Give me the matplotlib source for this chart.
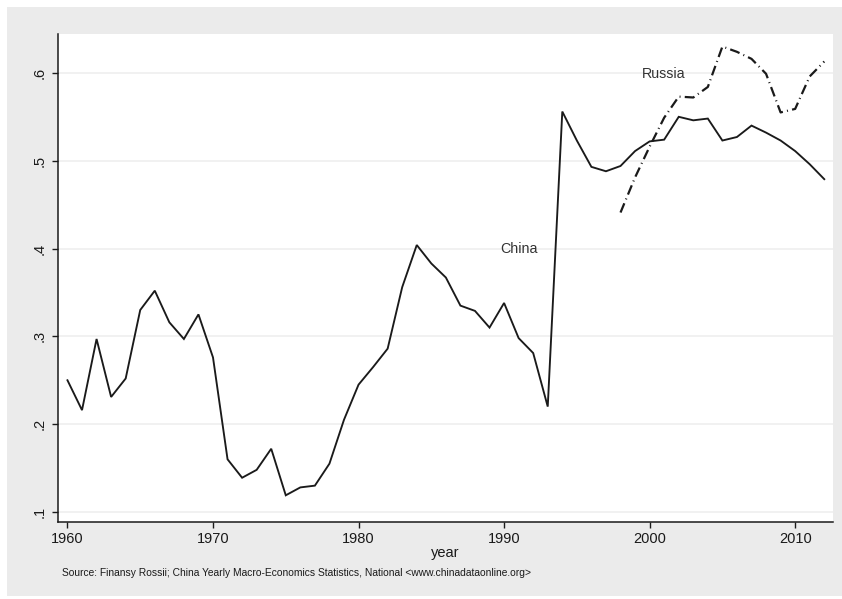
import matplotlib
matplotlib.use("Agg")
import matplotlib.pyplot as plt
from matplotlib.patches import Rectangle

plt.rcParams['font.family'] = ['Liberation Sans', 'DejaVu Sans']

# Series data
china_years = list(range(1960, 2013))
china_values = [
    0.250, 0.216, 0.297, 0.231, 0.252, 0.330, 0.352, 0.316, 0.297, 0.325,
    0.276, 0.160, 0.139, 0.148, 0.172, 0.119, 0.128, 0.130, 0.155, 0.205,
    0.245, 0.265, 0.286, 0.356, 0.404, 0.383, 0.367, 0.335, 0.329, 0.310,
    0.338, 0.298, 0.281, 0.220, 0.556, 0.523, 0.493, 0.488, 0.494, 0.511,
    0.522, 0.524, 0.550, 0.546, 0.548, 0.523, 0.527, 0.540, 0.532, 0.523,
    0.511, 0.496, 0.479,
]
russia_years = list(range(1998, 2013))
russia_values = [
    0.441, 0.481, 0.516, 0.549, 0.573, 0.572, 0.584, 0.630, 0.624, 0.616,
    0.599, 0.555, 0.559, 0.596, 0.613,
]

x_ticks = [1960, 1970, 1980, 1990, 2000, 2010]
y_ticks = [0.1, 0.2, 0.3, 0.4, 0.5, 0.6]
y_tick_labels = [".1", ".2", ".3", ".4", ".5", ".6"]
source_note = ("Source: Finansy Rossii; China Yearly Macro-Economics Statistics, "
               "National <www.chinadataonline.org>")

W, H = 842, 599
fig = plt.figure(figsize=(W / 100, H / 100), dpi=100)
fig.patch.set_facecolor("white")

# Grey graph region
fig.patches.append(Rectangle((7 / W, 3 / H), 1 - 7 / W, (596 - 7) / H,
                             transform=fig.transFigure, facecolor="#ebebeb",
                             edgecolor="none", zorder=-10))

ax = fig.add_axes([58 / W, 1 - 522 / H, (833 - 58) / W, (522 - 34) / H])
ax.set_facecolor("white")

ax.plot(china_years, china_values, color="#1a1a1a", lw=1.35, solid_joinstyle="miter")
ax.plot(russia_years, russia_values, color="#1a1a1a", lw=1.6,
        dashes=(4.5, 1.9, 0.45, 1.9))

ax.text(1991, 0.40, "China", ha="center", va="center", fontsize=10.3, color="#333333")
ax.text(2001, 0.599, "Russia", ha="center", va="center", fontsize=10.3, color="#333333")

ax.set_xlim(1959.35, 2012.6)
ax.set_ylim(0.0886, 0.6443)

ax.set_xticks(x_ticks)
ax.set_yticks(y_ticks)
ax.set_yticklabels(y_tick_labels, rotation=90, va="center")
ax.tick_params(axis="both", direction="out", length=4, width=1, color="#1a1a1a",
               labelsize=10.5, labelcolor="#1a1a1a")
ax.tick_params(axis="x", pad=3.5)
ax.tick_params(axis="y", pad=4.5)

ax.grid(axis="y", color="#eeeeee", lw=1.1)
ax.set_axisbelow(True)

for side in ("top", "right"):
    ax.spines[side].set_visible(False)
for side in ("left", "bottom"):
    ax.spines[side].set_color("#1a1a1a")
    ax.spines[side].set_linewidth(1.1)

fig.text((58 + 833) / 2 / W, 1 - 553 / H, "year", ha="center", va="center",
         fontsize=10.5, color="#1a1a1a")
fig.text(62 / W, 1 - 573 / H, source_note, ha="left", va="center",
         fontsize=7.4, color="#1a1a1a")

fig.savefig("out.png", dpi=100, facecolor=fig.get_facecolor())
